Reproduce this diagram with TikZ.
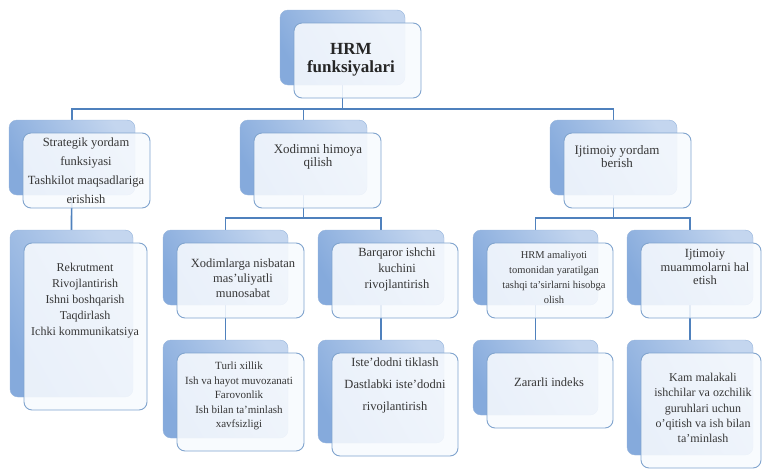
\documentclass[tikz,border=0pt]{standalone}
\usepackage{fontspec}
\setmainfont{Liberation Serif}
\usetikzlibrary{positioning,backgrounds}

\definecolor{hrmline}{RGB}{79,129,189}
\definecolor{boxdark}{RGB}{133,170,220}
\definecolor{boxlight}{RGB}{196,214,239}
\definecolor{boxedge}{RGB}{150,180,220}
\definecolor{frontedge}{RGB}{128,164,206}
\definecolor{frontfill}{RGB}{247,250,254}
\definecolor{hrmtext}{RGB}{55,55,55}

\begin{document}
\begin{tikzpicture}[
		x=1pt, y=-1pt,
		backbox/.style={
			rectangle,
			rounded corners=8pt,
			inner sep=0pt, outer sep=0pt,
			draw=boxedge, line width=0.4pt,
			top color=boxlight, bottom color=boxdark, shading angle=-60
		},
		frontbox/.style={
			rectangle,
			rounded corners=8pt,
			inner sep=0pt, outer sep=0pt,
			draw=frontedge, line width=0.9pt,
			fill=frontfill, fill opacity=0.88
		},
		link/.style={draw=hrmline, line width=1.7pt},
		boxtext/.style={align=center, inner sep=0pt, text=hrmtext},
		tighttext/.style={boxtext, font=\fontsize{13}{13}\selectfont}
		]
		
		\useasboundingbox (0,0) rectangle (763,469);
		
		% back box and front box: name/x/y/width/height/front width
		\def\hrmboxes{tb/280/10/125/75/127, lb1/9/120/126/75/127,
			mb1/240/120/127/75/127, rb1/550/120/127/75/127,
			lb2/10/230/123/167/123, ab/163/230/125/75/127,
			bb/318/230/126/75/126, cb/163/340/125/98/127,
			db/318/340/126/103/126, eb/473/230/125/75/126,
			fb/627/230/126/75/120, gb/473/340/125/75/126,
			hb/627/340/126/115/120}
		
		\foreach \n/\x/\y/\w/\h/\fw in \hrmboxes {
			\node[backbox, anchor=north west, minimum width=\w pt, minimum height=\h pt] (\n) at (\x,\y) {};
			\node[frontbox, minimum width=\fw pt, minimum height=\h pt,
				below right=13pt and 14pt of \n.north west] (\n f) {};
		}
		
		% connectors
		\coordinate (bus) at (0,109);
		\coordinate (sub) at (0,218);
		\begin{scope}[on background layer]
			\draw[link] (tb.center) -- (tb.center |- bus);
			\draw[link] (lb1.north) |- (bus -| mb1.north) -| (rb1.north);
			\draw[link] (bus -| mb1.north) -- (mb1.north);
			\draw[link] (lb1.center) -- (lb2.north);
			\draw[link] (mb1.center) -- (mb1.center |- sub);
			\draw[link] (ab.north) |- (sub -| mb1.center) -| (bb.north);
			\draw[link] (ab.center) -- (cb.north);
			\draw[link] (bb.center) -- (db.north);
			\draw[link] (rb1.center) -- (rb1.center |- sub);
			\draw[link] (eb.north) |- (sub -| rb1.center) -| (fb.north);
			\draw[link] (eb.center) -- (gb.north);
			\draw[link] (fb.center) -- (hb.north);
		\end{scope}
		
		% texts
		\node[boxtext, text=black!85, font=\fontsize{17}{18}\selectfont\bfseries] (tbt) at (351,60) {HRM\\funksiyalari};
		\node[boxtext, font=\fontsize{12.5}{19}\selectfont] (lb1t) at (86,171) {Strategik yordam\\funksiyasi\\Tashkilot maqsadlariga\\erishish};
		\node[tighttext] (mb1t) at (318,157) {Xodimni himoya\\qilish};
		\node[tighttext] (rb1t) at (617,157) {Ijtimoiy yordam\\berish};
		\node[boxtext, font=\fontsize{12}{16}\selectfont] (lb2t) at (85,301) {Rekrutment\\Rivojlantirish\\Ishni boshqarish\\Taqdirlash\\Ichki kommunikatsiya};
		\node[boxtext, font=\fontsize{12.5}{15}\selectfont] (abt) at (243,278) {Xodimlarga nisbatan\\mas'uliyatli\\munosabat};
		\node[boxtext, font=\fontsize{12.5}{16}\selectfont] (bbt) at (397,269) {Barqaror ishchi\\kuchini\\rivojlantirish};
		\node[boxtext, font=\fontsize{11}{14.5}\selectfont] (cbt) at (239,396) {Turli xillik\\Ish va hayot muvozanati\\Farovonlik\\Ish bilan ta'minlash\\xavfsizligi};
		\node[boxtext, font=\fontsize{12.5}{22}\selectfont] (dbt) at (395,385) {Iste'dodni tiklash\\Dastlabki iste'dodni\\rivojlantirish};
		\node[boxtext, font=\fontsize{10.5}{15}\selectfont] (ebt) at (554,277) {HRM amaliyoti\\tomonidan yaratilgan\\tashqi ta'sirlarni hisobga\\olish};
		\node[boxtext, font=\fontsize{12.5}{13.5}\selectfont] (fbt) at (705,267) {Ijtimoiy\\muammolarni hal\\etish};
		\node[boxtext, font=\fontsize{12.5}{15}\selectfont] (gbt) at (549,382) {Zararli indeks};
		\node[boxtext, font=\fontsize{12}{15.25}\selectfont] (hbt) at (703,408) {Kam malakali\\ishchilar va ozchilik\\guruhlari uchun\\o'qitish va ish bilan\\ta'minlash};
		
	\end{tikzpicture}
\end{document}
